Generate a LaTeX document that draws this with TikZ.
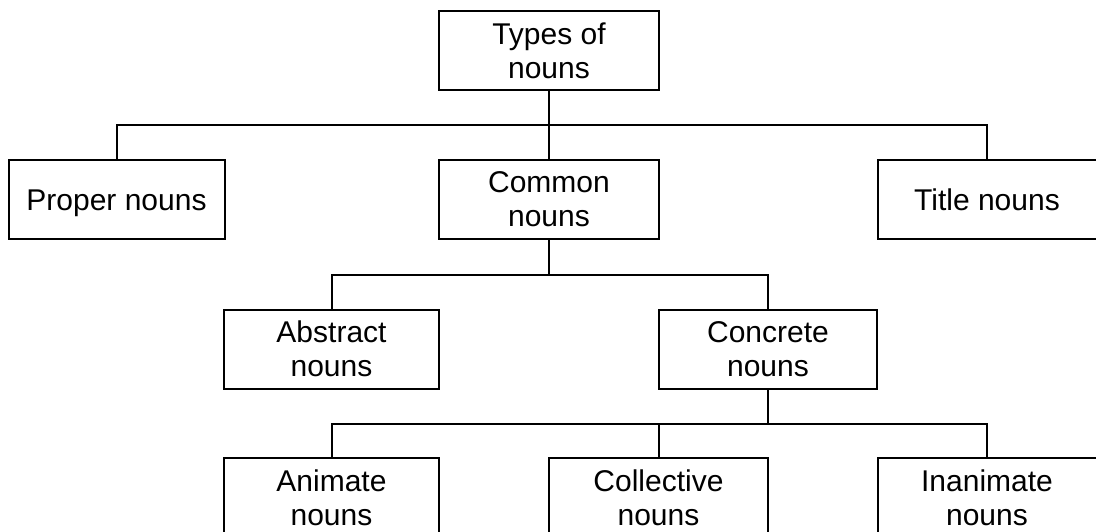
\documentclass[tikz,border=0pt]{standalone}
\usepackage{fontspec}
\setmainfont{Liberation Sans}
\begin{document}
\begin{tikzpicture}[x=1pt,y=-1pt,line width=2pt,
  nbox/.style={draw,align=center,minimum height=79pt,inner sep=0pt,
    font=\fontsize{30}{34}\selectfont},
  oneline/.style={text height=22pt,text depth=0pt}]
\useasboundingbox (0,0) rectangle (1096,531);
\clip (0,0) rectangle (1096,531);
\node[nbox,minimum width=220pt] (top) at (549,50.5) {Types of\\nouns};
\node[nbox,oneline,minimum width=216pt] (proper) at (116.5,199) {Proper nouns};
\node[nbox,minimum width=220pt] (common) at (549,199) {Common\\nouns};
\node[nbox,oneline,minimum width=219pt] (title) at (987,199) {Title nouns};
\node[nbox,minimum width=215pt] (abstract) at (331.5,349) {Abstract\\nouns};
\node[nbox,minimum width=218pt] (concrete) at (768,349) {Concrete\\nouns};
\node[nbox,minimum width=215pt] (animate) at (331.5,497.5) {Animate\\nouns};
\node[nbox,minimum width=219pt] (collective) at (658.5,497.5) {Collective\\nouns};
\node[nbox,minimum width=219pt] (inanimate) at (987,497.5) {Inanimate\\nouns};
\coordinate (j1) at (549,124.6);
\coordinate (j2) at (549,275);
\coordinate (j3) at (768,423.5);
\draw (top) -- (j1);
\draw (j1) -- (common);
\draw (proper.north) |- (j1) -| (title.north);
\draw (common) -- (j2);
\draw (abstract.north) |- (j2) -| (concrete.north);
\draw (concrete) -- (j3);
\draw (animate.north) |- (j3) -| (inanimate.north);
\draw (collective.north) -- (collective.north |- j3);
\end{tikzpicture}
\end{document}
